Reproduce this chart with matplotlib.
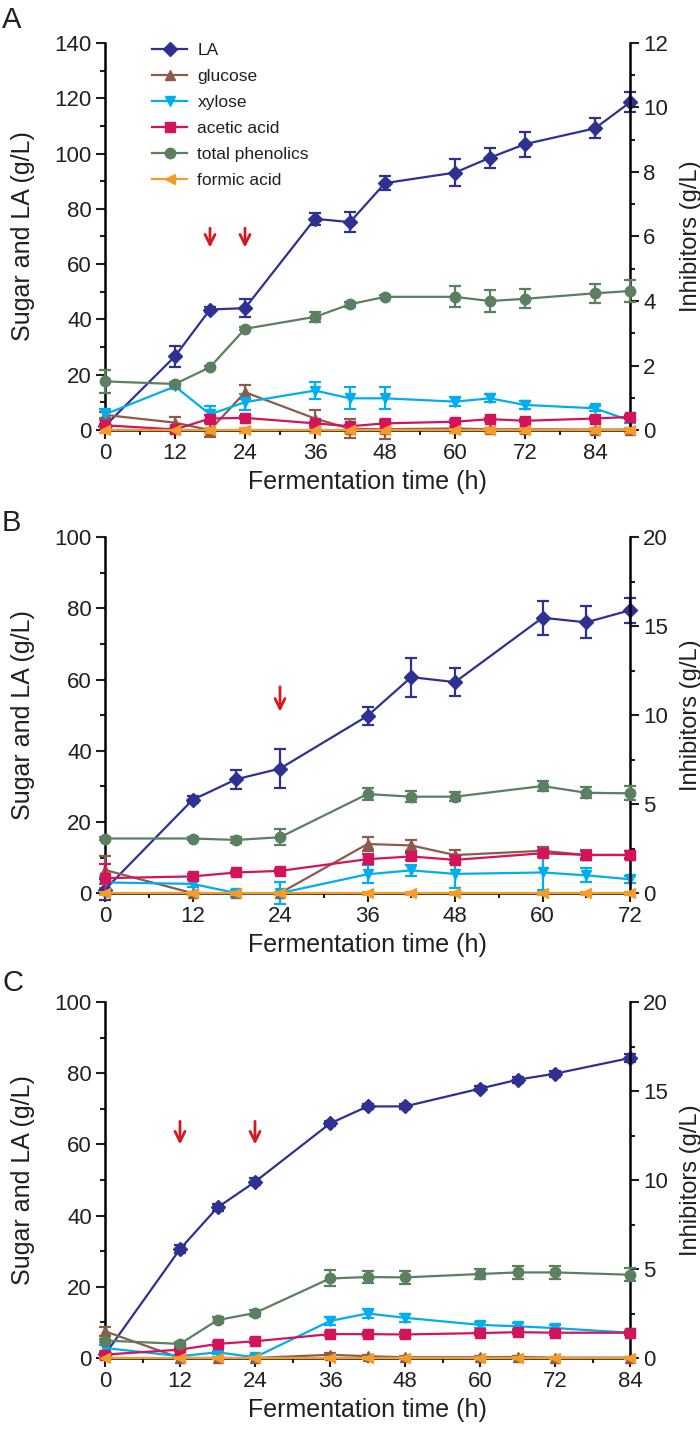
import matplotlib
matplotlib.use('Agg')
import matplotlib.pyplot as plt
from matplotlib.ticker import MultipleLocator

plt.rcParams['font.family'] = ['Liberation Sans', 'DejaVu Sans']
plt.rcParams['text.color'] = '#231f20'
plt.rcParams['axes.labelcolor'] = '#231f20'
plt.rcParams['xtick.color'] = '#231f20'
plt.rcParams['ytick.color'] = '#231f20'

# colours of the series
c_la = '#2e3192'
c_glc = '#8c5b4a'
c_xyl = '#00aeef'
c_ace = '#d4145a'
c_phe = '#5b7f61'
c_for = '#f39c2b'
c_arrow = '#d7191f'

# ---- panel A ----
t_a = [0, 12, 18, 24, 36, 42, 48, 60, 66, 72, 84, 90]
la_a = [1.5, 26.7, 43.6, 44.1, 76.4, 75.2, 89.3, 93.1, 98.5, 103.4, 109.1, 118.5]
la_a_err = [0.5, 3.8, 1.0, 3.2, 2.1, 3.5, 2.5, 5.0, 3.6, 4.5, 3.6, 3.6]
glc_a = [5.5, 2.7, 0.0, 13.7, 4.2, 0.5, 0.3, 0.6, 0.3, 0.3, 0.2, 0.2]
glc_a_err = [1.0, 2.0, 2.5, 2.5, 3.0, 3.5, 3.5, 0.5, 0.5, 0.3, 0.3, 0.3]
xyl_a = [5.7, 15.8, 5.7, 10.1, 14.3, 11.5, 11.5, 10.3, 11.5, 9.1, 7.9, 3.4]
xyl_a_err = [2.0, 1.0, 3.0, 3.0, 3.0, 4.0, 4.0, 1.5, 1.5, 1.5, 1.0, 1.0]
ace_a = [0.15, 0.02, 0.36, 0.38, 0.21, 0.12, 0.21, 0.26, 0.34, 0.29, 0.36, 0.41]
ace_a_err = [0.05, 0.03, 0.10, 0.05, 0.05, 0.05, 0.03, 0.05, 0.05, 0.05, 0.05, 0.05]
phe_a = [1.51, 1.43, 1.95, 3.14, 3.51, 3.90, 4.13, 4.13, 4.00, 4.07, 4.24, 4.31]
phe_a_err = [0.35, 0.05, 0.05, 0.05, 0.15, 0.08, 0.05, 0.33, 0.35, 0.30, 0.30, 0.35]
for_a = [0.0, 0.0, 0.0, 0.0, 0.0, 0.0, 0.0, 0.0, 0.0, 0.0, 0.0, 0.0]
for_a_err = [0.08, 0.08, 0.08, 0.08, 0.08, 0.08, 0.08, 0.08, 0.08, 0.08, 0.08, 0.08]
arrows_a = [18, 24]

# ---- panel B ----
t_b = [0, 12, 18, 24, 36, 42, 48, 60, 66, 72]
la_b = [1.0, 26.2, 32.0, 35.0, 49.8, 60.7, 59.3, 77.4, 76.1, 79.5]
la_b_err = [3.0, 1.0, 2.7, 5.5, 2.5, 5.5, 4.0, 4.8, 4.5, 3.5]
glc_b = [6.5, 0.0, 0.0, 0.0, 13.8, 13.4, 10.7, 11.9, 10.7, 10.7]
glc_b_err = [4.0, 0.3, 0.3, 0.3, 2.0, 1.5, 1.5, 1.0, 1.5, 1.0]
xyl_b = [3.0, 2.6, 0.0, 0.0, 5.3, 6.4, 5.4, 5.8, 5.0, 3.9]
xyl_b_err = [1.5, 1.0, 1.0, 3.0, 2.5, 1.5, 4.0, 5.0, 2.0, 1.0]
ace_b = [0.84, 0.94, 1.16, 1.25, 1.91, 2.06, 1.87, 2.24, 2.15, 2.15]
ace_b_err = [0.8, 0.15, 0.10, 0.10, 0.30, 0.20, 0.20, 0.20, 0.20, 0.20]
phe_b = [3.07, 3.07, 2.99, 3.14, 5.57, 5.42, 5.42, 6.02, 5.64, 5.61]
phe_b_err = [0.10, 0.10, 0.15, 0.45, 0.35, 0.30, 0.25, 0.30, 0.30, 0.40]
for_b = [0.0, 0.0, 0.0, 0.0, 0.0, 0.0, 0.0, 0.0, 0.0, 0.0]
for_b_err = [0.08, 0.08, 0.08, 0.08, 0.08, 0.08, 0.08, 0.08, 0.08, 0.08]
arrows_b = [24]

# ---- panel C ----
t_c = [0, 12, 18, 24, 36, 42, 48, 60, 66, 72, 84]
la_c = [1.0, 30.6, 42.3, 49.5, 65.9, 70.7, 70.7, 75.7, 78.2, 79.9, 84.3]
la_c_err = [0.5, 1.2, 1.0, 1.0, 0.8, 0.8, 0.8, 0.8, 0.8, 0.8, 1.0]
glc_c = [7.5, 0.0, 0.0, 0.0, 0.9, 0.5, 0.2, 0.2, 0.3, 0.1, 0.1]
glc_c_err = [1.2, 0.3, 0.3, 0.3, 0.4, 0.3, 0.3, 0.3, 0.3, 0.3, 0.3]
xyl_c = [2.8, 0.5, 1.6, 0.2, 10.4, 12.5, 11.3, 9.3, 8.9, 8.4, 7.1]
xyl_c_err = [0.8, 0.5, 0.5, 0.5, 1.2, 1.2, 1.2, 0.8, 0.8, 0.8, 0.5]
ace_c = [0.19, 0.47, 0.79, 0.94, 1.34, 1.34, 1.32, 1.40, 1.45, 1.42, 1.42]
ace_c_err = [0.10, 0.10, 0.10, 0.10, 0.12, 0.12, 0.12, 0.12, 0.12, 0.12, 0.12]
phe_c = [0.98, 0.79, 2.13, 2.53, 4.47, 4.55, 4.53, 4.72, 4.81, 4.81, 4.68]
phe_c_err = [0.10, 0.10, 0.15, 0.15, 0.45, 0.35, 0.35, 0.30, 0.35, 0.35, 0.35]
for_c = [0.0, 0.0, 0.0, 0.0, 0.0, 0.0, 0.0, 0.0, 0.0, 0.0, 0.0]
for_c_err = [0.08, 0.08, 0.08, 0.08, 0.08, 0.08, 0.08, 0.08, 0.08, 0.08, 0.08]
arrows_c = [12, 24]

labels = ['LA', 'glucose', 'xylose', 'acetic acid', 'total phenolics', 'formic acid']


def draw_series(ax, t, y, err, color, marker, ms=7.5):
    ax.errorbar(t, y, yerr=err, fmt='none', ecolor=color, elinewidth=1.6,
                capsize=4, capthick=1.6, clip_on=False, zorder=3)
    line, = ax.plot(t, y, color=color, marker=marker, ms=ms, lw=1.6,
                    clip_on=False, zorder=4)
    return line


def style_axes(ax, ax2, xmax, ymax, ymaj, ymin, rmax, rmaj, rmin):
    ax.set_xlim(0, xmax)
    ax.set_ylim(0, ymax)
    ax2.set_ylim(0, rmax)
    ax.xaxis.set_major_locator(MultipleLocator(12))
    ax.xaxis.set_minor_locator(MultipleLocator(6))
    ax.yaxis.set_major_locator(MultipleLocator(ymaj))
    ax.yaxis.set_minor_locator(MultipleLocator(ymin))
    ax2.yaxis.set_major_locator(MultipleLocator(rmaj))
    ax2.yaxis.set_minor_locator(MultipleLocator(rmin))
    for a in (ax, ax2):
        a.spines['top'].set_visible(False)
        for s in a.spines.values():
            s.set_linewidth(1.8)
        a.tick_params(which='major', direction='out', length=6.5, width=1.5,
                      labelsize=16, pad=3)
        a.tick_params(which='minor', direction='out', length=3.8, width=1.5)
    ax.spines['right'].set_visible(False)
    ax2.spines['left'].set_visible(False)
    ax2.spines['bottom'].set_visible(False)
    ax.set_xlabel('Fermentation time (h)', fontsize=18, labelpad=4)
    ax.set_ylabel('Sugar and LA (g/L)', fontsize=18)
    ax2.set_ylabel('Inhibitors (g/L)', fontsize=17)
    ax.yaxis.set_label_coords(-0.133, 0.5)
    ax2.yaxis.set_label_coords(1.096, 0.5)


def draw_panel(rect, t, la, la_e, glc, glc_e, xyl, xyl_e, ace, ace_e, phe, phe_e,
               fo, fo_e, arrows, arrow_y, xmax, ymax, ymaj, ymin, rmax, rmaj, rmin):
    ax = fig.add_axes(rect)
    ax2 = ax.twinx()
    h = []
    h.append(draw_series(ax, t, la, la_e, c_la, 'D', ms=7))
    h.append(draw_series(ax, t, glc, glc_e, c_glc, '^'))
    h.append(draw_series(ax, t, xyl, xyl_e, c_xyl, 'v'))
    h.append(draw_series(ax2, t, ace, ace_e, c_ace, 's', ms=7))
    h.append(draw_series(ax2, t, phe, phe_e, c_phe, 'o'))
    h.append(draw_series(ax2, t, fo, fo_e, c_for, '<'))
    for xa in arrows:
        ax.annotate('', xy=(xa, arrow_y[1]), xytext=(xa, arrow_y[0]),
                    arrowprops=dict(arrowstyle='->', color=c_arrow, lw=2,
                                    mutation_scale=18, shrinkA=0, shrinkB=0))
    style_axes(ax, ax2, xmax, ymax, ymaj, ymin, rmax, rmaj, rmin)
    return ax, ax2, h


fig = plt.figure(figsize=(7, 14.29), dpi=100)

ax_a, ax2_a, handles = draw_panel([0.15, 0.699, 0.75, 0.271], t_a, la_a, la_a_err,
                                  glc_a, glc_a_err, xyl_a, xyl_a_err, ace_a, ace_a_err,
                                  phe_a, phe_a_err, for_a, for_a_err, arrows_a, (73, 66),
                                  90, 140, 20, 10, 12, 2, 1)
ax2_a.legend(handles, labels, loc='upper left', bbox_to_anchor=(0.09, 1.0),
             frameon=False, fontsize=12.5, handlelength=2.0, numpoints=1,
             borderpad=0, borderaxespad=0, labelspacing=0.62, handletextpad=0.6)

draw_panel([0.15, 0.375, 0.75, 0.249], t_b, la_b, la_b_err, glc_b, glc_b_err,
           xyl_b, xyl_b_err, ace_b, ace_b_err, phe_b, phe_b_err, for_b, for_b_err,
           arrows_b, (58, 51), 72, 100, 20, 10, 20, 5, 2.5)

draw_panel([0.15, 0.0497, 0.75, 0.249], t_c, la_c, la_c_err, glc_c, glc_c_err,
           xyl_c, xyl_c_err, ace_c, ace_c_err, phe_c, phe_c_err, for_c, for_c_err,
           arrows_c, (66.5, 60), 84, 100, 20, 10, 20, 5, 2.5)

fig.text(0.003, 0.996, 'A', fontsize=21, va='top', ha='left')
fig.text(0.003, 0.644, 'B', fontsize=21, va='top', ha='left')
fig.text(0.003, 0.322, 'C', fontsize=21, va='top', ha='left')

fig.savefig('out.png', dpi=100)
